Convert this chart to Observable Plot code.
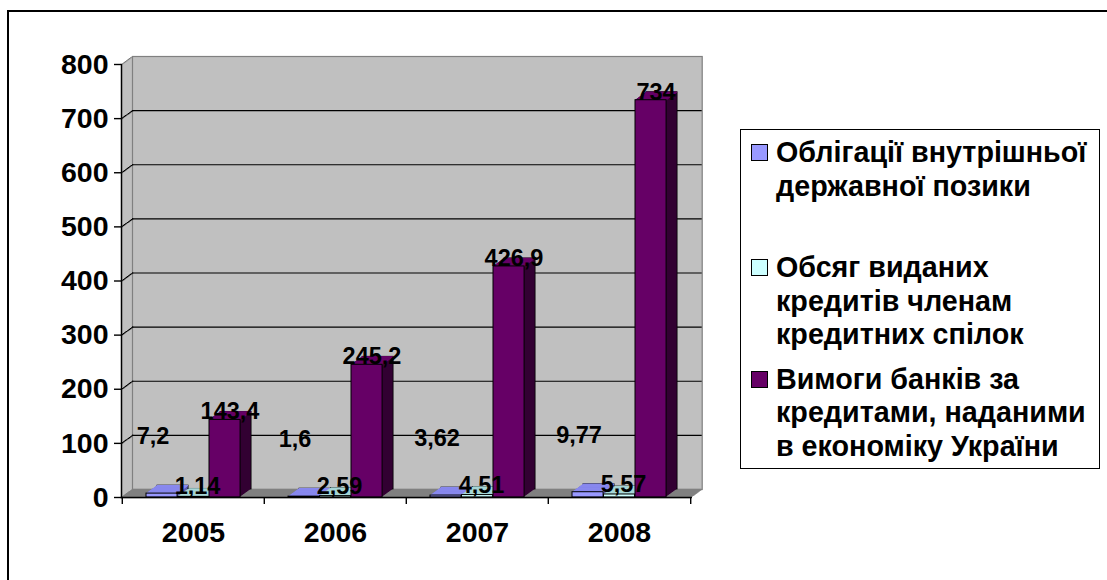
<!DOCTYPE html>
<html><head><meta charset="utf-8">
<script src="https://cdn.jsdelivr.net/npm/d3@7"></script>
<script src="https://cdn.jsdelivr.net/npm/@observablehq/plot@0.6"></script>
<style>
body{margin:0;background:#fff;font-family:Arial,"Liberation Sans",sans-serif;}
#wrap{position:relative;width:1107px;height:580px;overflow:hidden;background:#fff;}
#border{position:absolute;left:7px;top:10px;width:1300px;height:800px;border-left:2px solid #000;border-top:2px solid #000;}
#chart{position:absolute;left:0;top:0;}
#legend{position:absolute;left:740px;top:129px;width:360px;height:340px;border:1.5px solid #000;box-sizing:border-box;background:#fff;}
.item{position:absolute;left:0;width:100%;}
.mk{position:absolute;left:10px;width:15px;height:15px;border:1px solid #000;}
.tx{position:absolute;left:35px;white-space:pre;font-weight:bold;font-size:28.7px;line-height:33.7px;color:#000;}
</style></head>
<body><div id="wrap"><div id="border"></div><div id="chart"></div><div id="legend"></div></div>
<script>
// ---- data ----
const years = ["2005", "2006", "2007", "2008"];
const bonds = [7.2, 1.6, 3.62, 9.77];            // Облігації внутрішньої державної позики
const unionCredits = [1.14, 2.59, 4.51, 5.57];   // Обсяг виданих кредитів членам кредитних спілок
const bankClaims = [143.4, 245.2, 426.9, 734];   // Вимоги банків за кредитами
const seriesNames = [
  "Облігації внутрішньої\nдержавної позики",
  "Обсяг виданих\nкредитів членам\nкредитних спілок",
  "Вимоги банків за\nкредитами, наданими\nв економіку України"
];
const yTicks = [0, 100, 200, 300, 400, 500, 600, 700, 800];

// ---- styles ----
const frontColors = ["#9999FF", "#CCFFFF", "#660066"];
const topColors = ["#8888ee", "#a6d6d6", "#660066"];
const sideColors = ["#5c5cb0", "#8cb8b8", "#330033"];

const W = 730, H = 580, ML = 121, MR = 39.3, MT = 64, MB = 83;
const FW = W - ML - MR, BAND = FW / years.length;
const DEPTH = 11, RISE = 8, STEPS = 11;
const BAR = 31.5, GAP0 = 24;
const off = i => ({dx: i * DEPTH / STEPS, dy: -i * RISE / STEPS});

const allSeries = [bonds, unionCredits, bankClaims];
const tables = allSeries.map(vals => years.map((y, i) => ({year: y, value: vals[i]})));
const fmt = v => String(v).replace(".", ",");

const marks = [];
// 3D box silhouette (left wall + floor region)
for (let i = 0; i <= STEPS; i++) marks.push(Plot.frame({fill: "#c0c0c0", ...off(i)}));
// back wall
marks.push(Plot.frame({fill: "#c0c0c0", stroke: "#808080", strokeWidth: 1.2, dx: DEPTH, dy: -RISE}));
// floor
for (let i = 0; i <= STEPS; i++) marks.push(Plot.ruleY([0], {stroke: "#808080", strokeWidth: 1.6, ...off(i)}));
// gridlines on back wall
marks.push(Plot.ruleY(yTicks.filter(t => t > 0 && t < 800), {stroke: "#000", strokeWidth: 1.2, dx: DEPTH, dy: -RISE}));
// gridline segments across the side wall
for (let i = 0; i <= STEPS; i++) {
  marks.push(Plot.ruleY(yTicks.filter(t => t > 0 && t < 800), {stroke: "#000", strokeWidth: 1.2, insetRight: FW - 1.3, ...off(i)}));
  marks.push(Plot.ruleY([800], {stroke: "#808080", strokeWidth: 1.2, insetRight: FW - 1.3, ...off(i)}));
}
// bars
allSeries.forEach((vals, k) => {
  const rows = tables[k];
  const insetLeft = GAP0 + BAR * k;
  const insetRight = BAND - GAP0 - BAR * (k + 1);
  for (let i = STEPS; i >= 1; i--) {
    marks.push(Plot.barY(rows, {x: "year", y: "value", fill: sideColors[k], insetLeft, insetRight,
      stroke: i === STEPS ? "#000" : "none", strokeWidth: 0.8, ...off(i)}));
  }
  for (let i = 0; i <= STEPS; i++) {
    marks.push(Plot.tickY(rows, {x: "year", y: "value", stroke: topColors[k], strokeWidth: 1.4, insetLeft, insetRight, ...off(i)}));
  }
  marks.push(Plot.barY(rows, {x: "year", y: "value", fill: frontColors[k], stroke: "#000", strokeWidth: 1, insetLeft, insetRight}));
});
// axes
marks.push(Plot.frame({anchor: "left", stroke: "#000", strokeWidth: 1.5}));
marks.push(Plot.frame({anchor: "bottom", stroke: "#000", strokeWidth: 1.5}));
marks.push(Plot.axisY({ticks: yTicks, tickSize: 7, tickPadding: 6, fontSize: 28.5, fontWeight: "bold", label: null, strokeWidth: 1.4}));
marks.push(Plot.axisX({tickSize: 0, tickPadding: 24, fontSize: 28.5, fontWeight: "bold", label: null}));
marks.push(Plot.axisX({tickSize: 7, tickFormat: () => "", dx: -BAND / 2, label: null, strokeWidth: 1.4}));
marks.push(Plot.axisX({ticks: [years[years.length - 1]], tickSize: 7, tickFormat: () => "", dx: BAND / 2, label: null, strokeWidth: 1.4}));
// data labels
const labelShift = [[-40.5, -57], [4, -10], [36.5, -8]];
allSeries.forEach((vals, k) => {
  marks.push(Plot.text(tables[k], {x: "year", y: "value", text: d => fmt(d.value), dx: labelShift[k][0], dy: labelShift[k][1],
    fontSize: 23.5, fontWeight: "bold", fill: "#000"}));
});

const chart = Plot.plot({
  width: W, height: H,
  marginLeft: ML, marginRight: MR, marginTop: MT, marginBottom: MB,
  x: {domain: years, padding: 0, axis: null},
  y: {domain: [0, 800], axis: null},
  style: {fontFamily: "Arial, 'Liberation Sans', sans-serif", fontWeight: "bold", color: "#000", background: "transparent", overflow: "visible"},
  marks
});
document.getElementById("chart").appendChild(chart);

// legend
const legend = document.getElementById("legend");
const itemTops = [6, 121, 232.5];
seriesNames.forEach((name, k) => {
  const it = document.createElement("div");
  it.className = "item";
  it.style.top = itemTops[k] + "px";
  const mk = document.createElement("div");
  mk.className = "mk";
  mk.style.background = frontColors[k];
  mk.style.top = (33.7 / 2 - 8.5) + "px";
  const tx = document.createElement("div");
  tx.className = "tx";
  tx.textContent = name;
  it.appendChild(mk); it.appendChild(tx);
  legend.appendChild(it);
});
</script></body></html>
